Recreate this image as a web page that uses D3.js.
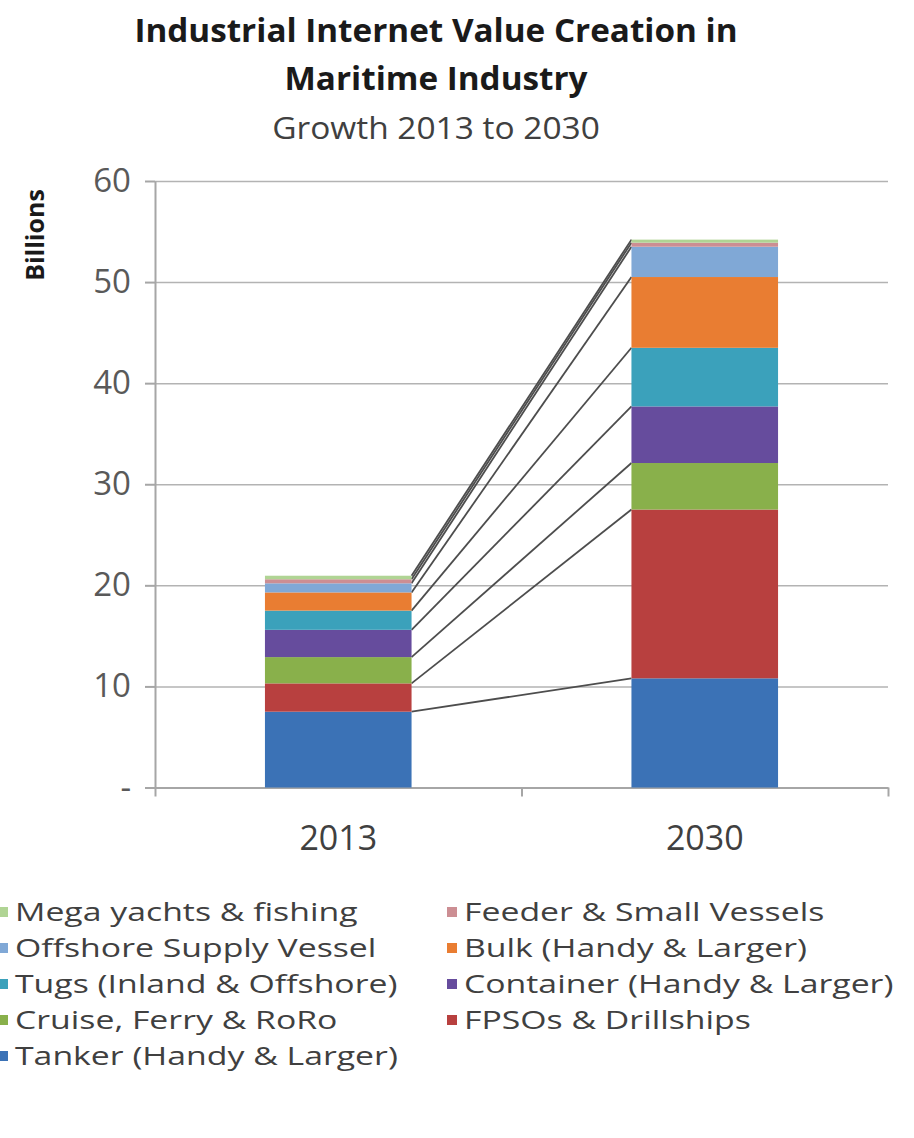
<!DOCTYPE html>
<html>
<head>
<meta charset="utf-8">
<script src="https://cdn.jsdelivr.net/npm/d3@7"></script>
<style>
body { margin: 0; background: #fff; }
svg text { font-family: "Open Sans", sans-serif; }
.axis path, .axis line { stroke: #a6a6a6; stroke-width: 2; }
.grid line { stroke: #b3b3b3; stroke-width: 1.5; }
.grid path { display: none; }
</style>
</head>
<body>
<div id="root"></div>
<script>
const years = ["2013", "2030"];
const series = ["Tanker (Handy & Larger)", "FPSOs & Drillships", "Cruise, Ferry & RoRo",
    "Container (Handy & Larger)", "Tugs (Inland & Offshore)", "Bulk (Handy & Larger)",
    "Offshore Supply Vessel", "Feeder & Small Vessels", "Mega yachts & fishing"];
const values2013 = [7.5, 2.8, 2.6, 2.7, 1.9, 1.8, 0.9, 0.4, 0.35];
const values2030 = [10.8, 16.7, 4.6, 5.6, 5.8, 7.0, 3.0, 0.4, 0.3];
const colors = ["#3b72b6", "#b8403f", "#89b04b", "#664c9d", "#3ba1bb", "#e97d32", "#80a8d6", "#cc8e93", "#b0d494"];
const yTicks = [0, 10, 20, 30, 40, 50, 60];
const legendOrder = [8, 7, 6, 5, 4, 3, 2, 1, 0];

const W = 914, H = 1138;
const plot = {left: 155, right: 888, top: 181, bottom: 787.5};

const svg = d3.select("#root").append("svg")
    .attr("width", W)
    .attr("height", H);

const rows = years.map((yr, i) => {
    const r = {year: yr};
    series.forEach((s, j) => r[s] = (i === 0 ? values2013 : values2030)[j]);
    return r;
});
const stacked = d3.stack().keys(series)(rows);

const x = d3.scaleBand()
    .domain(years)
    .range([plot.left, plot.right])
    .paddingInner(0.6)
    .paddingOuter(0.3);

const y = d3.scaleLinear()
    .domain([0, 60])
    .range([plot.bottom, plot.top]);

// title (text is a little wide in the original, so stretch it slightly)
const title = svg.append("g").attr("text-anchor", "middle").attr("fill", "#1a1a1a");
title.append("text").attr("transform", "translate(436,42) scale(1.04,1)")
    .attr("font-size", 32).attr("font-weight", "bold")
    .text("Industrial Internet Value Creation in");
title.append("text").attr("transform", "translate(436,90) scale(1.04,1)")
    .attr("font-size", 32).attr("font-weight", "bold")
    .text("Maritime Industry");
title.append("text").attr("transform", "translate(436,139) scale(1.08,1)")
    .attr("font-size", 31).attr("fill", "#404040")
    .text("Growth 2013 to 2030");

// gridlines
svg.append("g")
    .attr("class", "grid")
    .attr("transform", `translate(${plot.left},0)`)
    .call(d3.axisLeft(y).tickValues(yTicks.slice(1)).tickSize(-(plot.right - plot.left)).tickFormat(""));

// y axis
const yAxis = svg.append("g")
    .attr("class", "axis")
    .attr("transform", `translate(${plot.left},0)`)
    .call(d3.axisLeft(y).tickValues(yTicks).tickSize(10).tickSizeOuter(0).tickPadding(14)
        .tickFormat(d => d === 0 ? "-" : d));
yAxis.selectAll("text").attr("font-size", 33).attr("fill", "#595959");

svg.append("text")
    .attr("transform", "translate(44,235) rotate(-90)")
    .attr("text-anchor", "middle")
    .attr("font-size", 25)
    .attr("font-weight", "bold")
    .attr("fill", "#1a1a1a")
    .text("Billions");

// x axis
const xEdge = d3.scaleLinear().domain([0, years.length]).range([plot.left, plot.right]);
svg.append("g")
    .attr("class", "axis")
    .attr("transform", `translate(0,${plot.bottom})`)
    .call(d3.axisBottom(xEdge).ticks(years.length).tickSize(9).tickSizeOuter(0).tickFormat(""));

const xAxis = svg.append("g")
    .attr("transform", `translate(0,${plot.bottom})`)
    .call(d3.axisBottom(x).tickSize(0).tickPadding(38));
xAxis.select(".domain").remove();
xAxis.selectAll("text").attr("font-size", 34).attr("fill", "#404040");

// series lines between the two bars
const xa = x(years[0]) + x.bandwidth(), xb = x(years[1]);
svg.append("g").selectAll("line")
    .data(stacked)
    .enter()
    .append("line")
    .attr("x1", xa)
    .attr("y1", d => y(d[0][1]))
    .attr("x2", xb)
    .attr("y2", d => y(d[1][1]))
    .attr("stroke", "#4d4d4d")
    .attr("stroke-width", 1.8);

// bars
const layer = svg.append("g").selectAll("g")
    .data(stacked)
    .enter()
    .append("g")
    .attr("fill", (d, i) => colors[i]);

layer.selectAll("rect")
    .data(d => d)
    .enter()
    .append("rect")
    .attr("x", d => x(d.data.year))
    .attr("y", d => y(d[1]))
    .attr("width", x.bandwidth())
    .attr("height", d => y(d[0]) - y(d[1]));

// legend
const legend = svg.append("g").selectAll("g")
    .data(legendOrder)
    .enter()
    .append("g")
    .attr("transform", (d, i) => `translate(${i % 2 === 0 ? 0 : 449},${912 + Math.floor(i / 2) * 36})`);

legend.append("rect")
    .attr("x", -2)
    .attr("y", -5)
    .attr("width", 10)
    .attr("height", 10)
    .attr("fill", d => colors[d]);

legend.append("text")
    .attr("transform", "translate(15,0) scale(1.3,1)")
    .attr("dy", "0.35em")
    .attr("font-size", 26)
    .attr("fill", "#404040")
    .text(d => series[d]);
</script>
</body>
</html>
